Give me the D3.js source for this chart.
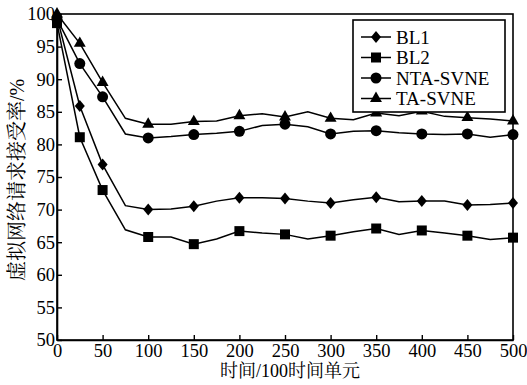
<!DOCTYPE html>
<html>
<head>
<meta charset="utf-8">
<script src="https://cdn.jsdelivr.net/npm/d3@7"></script>
<style>
  body { margin: 0; background: #fff; }
  svg { display: block; }
  text { font-family: "Liberation Serif", Tinos, "Times New Roman", "DejaVu Serif", serif; fill: #000; }
  text.cjk { font-family: "Liberation Serif", "Noto Serif CJK SC", "Noto Sans CJK SC", serif; }
</style>
</head>
<body>
<svg id="chart" width="527" height="385"></svg>
<script>
// time (x 100 time units), a point every 25
var times = [0,25,50,75,100,125,150,175,200,225,250,275,300,325,350,375,400,425,450,475,500];
// markers are only drawn at these times
var markerTimes = [0,25,50,100,150,200,250,300,350,400,450,500];

var bl1 = [99.5,85.9,76.9,70.6,70.0,70.1,70.5,71.3,71.8,71.8,71.7,71.3,71.0,71.5,71.9,71.2,71.3,71.3,70.7,70.8,71.0];
var bl2 = [98.6,81.1,73.0,66.9,65.8,65.8,64.7,65.5,66.7,66.4,66.2,65.5,66.0,66.6,67.1,66.2,66.8,66.4,66.0,65.4,65.7];
var nta = [99.2,92.4,87.3,81.6,81.0,81.2,81.5,81.7,82.0,82.9,83.1,82.7,81.6,82.0,82.1,81.8,81.6,81.5,81.6,81.1,81.5];
var ta  = [100,95.5,89.5,84.0,83.1,83.1,83.5,83.6,84.4,84.7,84.2,85.0,84.0,83.8,84.8,84.4,85.1,84.3,84.1,83.9,83.6];

var seriesNames = ["BL1", "BL2", "NTA-SVNE", "TA-SVNE"];
var seriesValues = [bl1, bl2, nta, ta];

var xTicks = [0,50,100,150,200,250,300,350,400,450,500];
var yTicks = [50,55,60,65,70,75,80,85,90,95,100];

var svg = d3.select("#chart");
var margin = {top: 14, right: 14, bottom: 45, left: 57};
var w = 527 - margin.left - margin.right;
var h = 385 - margin.top - margin.bottom;
var g = svg.append("g").attr("transform", "translate(" + margin.left + "," + margin.top + ")");

var xScale = d3.scaleLinear().domain([0, 500]).range([0, w]);
var yScale = d3.scaleLinear().domain([50, 100]).range([h, 0]);

// diamond a little wider than d3's own
var diamond = {
  draw: function(ctx, size) {
    var hy = 6, hx = 5;
    ctx.moveTo(0, -hy); ctx.lineTo(hx, 0); ctx.lineTo(0, hy); ctx.lineTo(-hx, 0); ctx.closePath();
  }
};
var symbols = [
  d3.symbol().type(diamond),
  d3.symbol().type(d3.symbolSquare).size(100),
  d3.symbol().type(d3.symbolCircle).size(95),
  d3.symbol().type(d3.symbolTriangle).size(62)
];

// frame
g.append("rect")
  .attr("width", w).attr("height", h)
  .attr("fill", "none").attr("stroke", "#000").attr("stroke-width", 1.6);

var xAxis = g.append("g")
  .attr("transform", "translate(0," + h + ")")
  .call(d3.axisBottom(xScale).tickValues(xTicks).tickSize(-5).tickSizeOuter(0).tickPadding(4));
var yAxis = g.append("g")
  .call(d3.axisLeft(yScale).tickValues(yTicks).tickSize(-5).tickSizeOuter(0).tickPadding(3));

[xAxis, yAxis].forEach(function(a) {
  a.attr("font-family", null);
  a.selectAll("path").attr("stroke", "#000").attr("stroke-width", 1.6);
  a.selectAll("line").attr("stroke", "#000").attr("stroke-width", 1.4);
  a.selectAll("text").attr("font-size", 18.5).attr("fill", "#000");
});
yAxis.selectAll("text").attr("x", -2);

var line = d3.line()
  .x(function(d) { return xScale(d.t); })
  .y(function(d) { return yScale(d.v); });

seriesValues.forEach(function(vals, i) {
  var pts = times.map(function(t, j) { return {t: t, v: vals[j]}; });
  g.append("path")
    .datum(pts)
    .attr("d", line)
    .attr("fill", "none")
    .attr("stroke", "#000")
    .attr("stroke-width", 1.5);
  g.selectAll(".m" + i)
    .data(pts.filter(function(d) { return markerTimes.indexOf(d.t) >= 0; }))
    .enter().append("path")
    .attr("class", "m" + i)
    .attr("transform", function(d) { return "translate(" + xScale(d.t) + "," + yScale(d.v) + ")"; })
    .attr("d", symbols[i])
    .attr("fill", "#000");
});

// legend
var lg = svg.append("g");
lg.append("rect")
  .attr("x", 353).attr("y", 20).attr("width", 152).attr("height", 92)
  .attr("fill", "#fff").attr("stroke", "#000").attr("stroke-width", 1.6);
seriesNames.forEach(function(name, i) {
  var y = 37 + i * 20.5;
  lg.append("line").attr("x1", 361).attr("x2", 391).attr("y1", y).attr("y2", y)
    .attr("stroke", "#000").attr("stroke-width", 1.5);
  lg.append("path").attr("transform", "translate(376," + y + ")").attr("d", symbols[i]).attr("fill", "#000");
  lg.append("text").attr("x", 396).attr("y", y).attr("dy", "0.35em")
    .attr("font-size", 19).text(name);
});

// axis titles
svg.append("text")
  .attr("class", "cjk")
  .attr("x", 290).attr("y", 371).attr("dy", "0.35em")
  .attr("text-anchor", "middle").attr("font-size", 18)
  .text("时间/100时间单元");
svg.append("text")
  .attr("class", "cjk")
  .attr("transform", "translate(17,180) rotate(-90)")
  .attr("dy", "0.35em")
  .attr("text-anchor", "middle").attr("font-size", 20)
  .text("虚拟网络请求接受率/%");
</script>
</body>
</html>
